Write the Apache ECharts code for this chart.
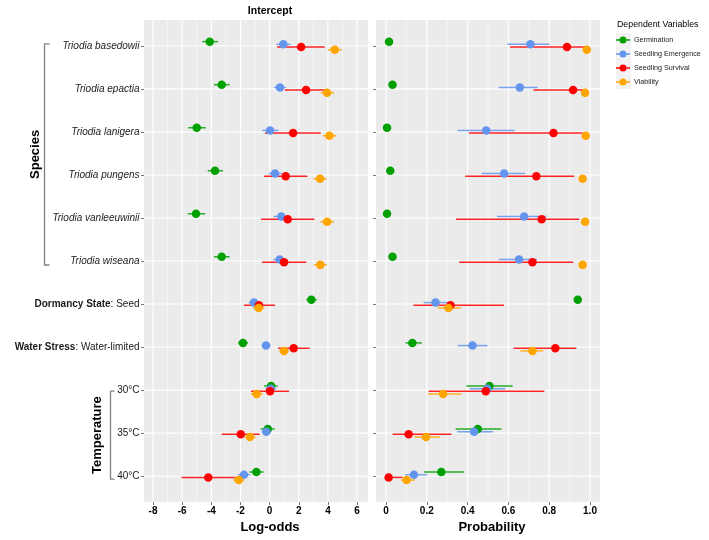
<!DOCTYPE html>
<html><head><meta charset="utf-8">
<script src="https://cdn.jsdelivr.net/npm/echarts@6/dist/echarts.min.js"></script>
<style>html,body{margin:0;padding:0;background:#fff}#c{width:709px;height:540px}</style>
</head><body><div id="c"></div>
<script>
// ---------- data ----------
const categories = ['Triodia basedowii','Triodia epactia','Triodia lanigera','Triodia pungens','Triodia vanleeuwinii','Triodia wiseana','Dormancy State: Seed','Water Stress: Water-limited','30°C','35°C','40°C'];
const seriesNames = ['Germination','Seedling Emergence','Seedling Survival','Viability'];
const colors = ['#00A000','#6495ED','#FF0000','#FFA500'];

// Log-odds: [estimate, lower, upper] per category
const logGermination = [[-4.11,-4.62,-3.54],[-3.29,-3.82,-2.74],[-5.00,-5.58,-4.39],[-3.75,-4.25,-3.20],[-5.05,-5.62,-4.43],[-3.29,-3.82,-2.74],[2.86,2.52,3.23],[-1.83,-2.17,-1.48],[0.10,-0.38,0.55],[-0.13,-0.61,0.35],[-0.91,-1.39,-0.41]];
const logEmergence = [[0.94,0.46,1.45],[0.71,0.30,1.13],[0.03,-0.52,0.62],[0.37,-0.06,0.83],[0.80,0.26,1.35],[0.69,0.26,1.13],[-1.07,-1.44,-0.66],[-0.25,-0.54,0.05],[0.07,-0.30,0.44],[-0.23,-0.54,0.12],[-1.76,-2.17,-1.32]];
const logSurvival = [[2.16,0.51,3.78],[2.50,1.04,3.99],[1.61,-0.32,3.51],[1.10,-0.38,2.59],[1.24,-0.59,3.07],[0.99,-0.52,2.52],[-0.73,-1.76,0.37],[1.65,0.58,2.75],[0.03,-1.28,1.33],[-1.98,-3.29,-0.68],[-4.21,-6.03,-2.33]];
const logViability = [[4.47,3.98,4.95],[3.94,3.51,4.42],[4.10,3.64,4.56],[3.46,3.00,3.92],[3.94,3.48,4.42],[3.48,3.03,3.94],[-0.75,-1.14,-0.36],[0.99,0.64,1.33],[-0.89,-1.28,-0.47],[-1.35,-1.73,-0.96],[-2.12,-2.49,-1.73]];

// Probability: [estimate, lower, upper] per category
const probGermination = [[0.015,0.010,0.022],[0.032,0.024,0.050],[0.005,0.003,0.010],[0.021,0.015,0.030],[0.005,0.003,0.010],[0.032,0.024,0.050],[0.940,0.922,0.954],[0.129,0.096,0.176],[0.507,0.395,0.621],[0.450,0.341,0.566],[0.271,0.187,0.382]];
const probEmergence = [[0.708,0.595,0.800],[0.656,0.553,0.744],[0.491,0.351,0.631],[0.579,0.470,0.682],[0.677,0.545,0.785],[0.652,0.553,0.739],[0.243,0.184,0.315],[0.424,0.351,0.497],[0.496,0.411,0.584],[0.432,0.349,0.524],[0.137,0.094,0.202]];
const probSurvival = [[0.887,0.608,0.975],[0.917,0.723,0.975],[0.821,0.406,0.964],[0.737,0.388,0.923],[0.763,0.343,0.948],[0.718,0.359,0.918],[0.316,0.135,0.578],[0.830,0.625,0.933],[0.489,0.209,0.776],[0.111,0.032,0.321],[0.013,0.002,0.081]];
const probViability = [[0.984,0.978,0.989],[0.976,0.967,0.983],[0.979,0.971,0.985],[0.964,0.952,0.973],[0.976,0.967,0.983],[0.964,0.952,0.973],[0.306,0.253,0.367],[0.718,0.659,0.770],[0.280,0.207,0.369],[0.196,0.140,0.264],[0.101,0.073,0.142]];

const logTicks = [-8,-6,-4,-2,0,2,4,6];
const logMinor = [-7,-5,-3,-1,1,3,5];
const probTicks = [0,0.2,0.4,0.6,0.8,1.0];
const probMinor = [0.1,0.3,0.5,0.7,0.9];

// ---------- layout / style ----------
const FONT = "'Liberation Sans', Arial, Helvetica, sans-serif";
const dodge = [-0.097, -0.034, 0.028, 0.09];
const catIdx = categories.map((c, i) => i);
const logSets = [logGermination, logEmergence, logSurvival, logViability];
const probSets = [probGermination, probEmergence, probSurvival, probViability];

const chart = echarts.init(document.getElementById('c'), null, {renderer: 'canvas'});

function vLines(g, major, minor) {
  const data = major.map(v => [v, 1]).concat(minor.map(v => [v, 0]));
  return {
    type: 'custom', xAxisIndex: g, yAxisIndex: g, z: 1, silent: true, data: data,
    encode: {x: 0}, clip: false,
    renderItem: (params, api) => {
      const cs = params.coordSys;
      const x = api.coord([api.value(0), 0])[0];
      return {type: 'line', shape: {x1: x, y1: cs.y, x2: x, y2: cs.y + cs.height},
        style: {stroke: '#ffffff', lineWidth: api.value(1) ? 1.1 : 0.55}};
    }
  };
}
function hLines(g) {
  return {
    type: 'custom', xAxisIndex: g, yAxisIndex: g, z: 1, silent: true,
    data: catIdx.map(i => [0, i]), encode: {x: 0, y: 1}, clip: false,
    renderItem: (params, api) => {
      const cs = params.coordSys;
      const y = api.coord([api.value(0), api.value(1)])[1];
      return {type: 'line', shape: {x1: cs.x, y1: y, x2: cs.x + cs.width, y2: y},
        style: {stroke: '#ffffff', lineWidth: 1.1}};
    }
  };
}
function errSeries(g, set, s) {
  return {
    type: 'custom', name: 'ci-' + seriesNames[s], xAxisIndex: g, yAxisIndex: g, z: 2, silent: true,
    data: set.map((d, i) => [d[1], d[2], i + dodge[s]]),
    encode: {x: [0, 1], y: 2},
    renderItem: (params, api) => {
      const p1 = api.coord([api.value(0), api.value(2)]);
      const p2 = api.coord([api.value(1), api.value(2)]);
      return {type: 'line', shape: {x1: p1[0], y1: p1[1], x2: p2[0], y2: p2[1]},
        style: {stroke: colors[s], lineWidth: 1.5, opacity: 0.85}};
    }
  };
}
function ptSeries(g, set, s) {
  return {
    type: 'scatter', name: seriesNames[s], xAxisIndex: g, yAxisIndex: g, z: 3,
    symbol: 'circle', symbolSize: 8.5,
    itemStyle: {color: colors[s], opacity: 1},
    data: set.map((d, i) => [d[0], i + dodge[s]])
  };
}

const rich = {
  it: {fontFamily: FONT, fontSize: 10, fontStyle: 'italic', color: '#1a1a1a'},
  b: {fontFamily: FONT, fontSize: 10, fontWeight: 'bold', color: '#1a1a1a'},
  n: {fontFamily: FONT, fontSize: 10, color: '#1a1a1a'}
};
function yLabel(v) {
  const i = Math.round(v);
  const lab = categories[i];
  if (lab === undefined) return '';
  if (i < 6) return '{it|' + lab + '}';
  const k = lab.indexOf(':');
  if (k > 0) return '{b|' + lab.slice(0, k) + '}{n|' + lab.slice(k) + '}';
  return '{n|' + lab + '}';
}

function yAxis(g, showLabels) {
  return {
    type: 'value', gridIndex: g, inverse: true, min: -0.6, max: 10.6,
    axisLine: {show: false, onZero: false}, splitLine: {show: false},
    axisTick: {show: true, customValues: catIdx, length: 3, lineStyle: {color: '#555', width: 0.8}},
    axisLabel: {show: showLabels, customValues: catIdx, margin: 4.5, formatter: yLabel, rich: rich}
  };
}
function xAxis(g, min, max, ticks, fmt) {
  return {
    type: 'value', gridIndex: g, min: min, max: max, position: 'bottom',
    axisLine: {show: false, onZero: false}, splitLine: {show: false},
    axisTick: {show: true, customValues: ticks, length: 3, lineStyle: {color: '#555', width: 0.8}},
    axisLabel: {customValues: ticks, margin: 4, fontFamily: FONT, fontSize: 10, fontWeight: 'bold', color: '#000', formatter: fmt}
  };
}

const series = [vLines(0, logTicks, logMinor), hLines(0), vLines(1, probTicks, probMinor), hLines(1)];
for (let s = 0; s < 4; s++) series.push(errSeries(0, logSets[s], s));
for (let s = 0; s < 4; s++) series.push(errSeries(1, probSets[s], s));
for (let s = 0; s < 4; s++) series.push(ptSeries(0, logSets[s], s));
for (let s = 0; s < 4; s++) series.push(ptSeries(1, probSets[s], s));

const keyIcon = 'path://M7,0L7.01,0L7,0.01Z M7,14L7.01,14L7,13.99Z M0,6.3L3.6,6.3L3.6,7.7L0,7.7Z M10.4,6.3L14,6.3L14,7.7L10.4,7.7Z M3.5,7A3.5,3.5,0,1,0,10.5,7A3.5,3.5,0,1,0,3.5,7Z';

chart.setOption({
  animation: false,
  backgroundColor: '#ffffff',
  textStyle: {fontFamily: FONT},
  grid: [
    {left: 144, top: 20, width: 224, height: 482, show: true, backgroundColor: '#EBEBEB', borderWidth: 0},
    {left: 376, top: 20, width: 224, height: 482, show: true, backgroundColor: '#EBEBEB', borderWidth: 0}
  ],
  xAxis: [
    xAxis(0, -8.62, 6.75, logTicks, v => String(v)),
    xAxis(1, -0.049, 1.049, probTicks, v => (v === 0 ? '0' : v.toFixed(1)))
  ],
  yAxis: [yAxis(0, true), yAxis(1, false)],
  legend: {
    orient: 'vertical', left: 616, top: 33, padding: 0, itemGap: 0,
    itemWidth: 14, itemHeight: 14, icon: keyIcon, symbolKeepAspect: true,
    data: seriesNames,
    textStyle: {fontFamily: FONT, fontSize: 7.2, color: '#1a1a1a', padding: [0, 0, 0, -1]}
  },
  series: series
});

const yPix = i => chart.convertToPixel({yAxisIndex: 0}, i);
const sTop = yPix(0) - 2, sBot = yPix(5) + 4;
const tTop = yPix(8) + 1, tBot = yPix(10) + 3;
const bracketStyle = {stroke: '#808080', lineWidth: 1.3, fill: null};

chart.setOption({
  graphic: [
    {type: 'rect', z: 0, shape: {x: 616, y: 33, width: 15, height: 56}, style: {fill: '#F2F2F2'}},
    {type: 'text', x: 617, y: 25, style: {text: 'Dependent Variables', fontFamily: FONT, fontSize: 8.8, fill: '#000', textVerticalAlign: 'middle'}},
    {type: 'text', x: 270, y: 11, style: {text: 'Intercept', fontFamily: FONT, fontSize: 10.5, fontWeight: 'bold', fill: '#000', textAlign: 'center', textVerticalAlign: 'middle'}},
    {type: 'text', x: 270, y: 527, style: {text: 'Log-odds', fontFamily: FONT, fontSize: 13, fontWeight: 'bold', fill: '#000', textAlign: 'center', textVerticalAlign: 'middle'}},
    {type: 'text', x: 492, y: 527, style: {text: 'Probability', fontFamily: FONT, fontSize: 13, fontWeight: 'bold', fill: '#000', textAlign: 'center', textVerticalAlign: 'middle'}},
    {type: 'text', x: 35, y: (sTop + sBot) / 2, rotation: Math.PI / 2, style: {text: 'Species', fontFamily: FONT, fontSize: 13, fontWeight: 'bold', fill: '#000', textAlign: 'center', textVerticalAlign: 'middle'}},
    {type: 'text', x: 97, y: (tTop + tBot) / 2, rotation: Math.PI / 2, style: {text: 'Temperature', fontFamily: FONT, fontSize: 13, fontWeight: 'bold', fill: '#000', textAlign: 'center', textVerticalAlign: 'middle'}},
    {type: 'polyline', shape: {points: [[49.5, sTop], [44.5, sTop], [44.5, sBot], [49.5, sBot]]}, style: bracketStyle},
    {type: 'polyline', shape: {points: [[114.5, tTop], [110.5, tTop], [110.5, tBot], [114.5, tBot]]}, style: bracketStyle}
  ]
});
</script>
</body></html>
